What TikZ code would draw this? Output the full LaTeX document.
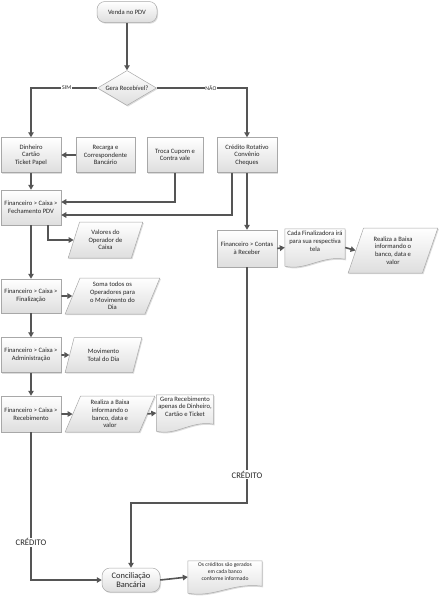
\documentclass[tikz,border=0pt]{standalone}
\usepackage{fontspec}
\setmainfont{Carlito}
\usetikzlibrary{shapes.geometric,arrows.meta,shadows,calc,backgrounds}
\definecolor{linec}{HTML}{555555}
\definecolor{bordc}{HTML}{A8A8A8}
\definecolor{txtc}{HTML}{262626}
\newcommand\docoutline[1]{%
  \begin{pgfonlayer}{background}
  \path[docfill] (#1.north west) -- (#1.north east) -- ([yshift=7pt]#1.south east)
    .. controls ($(#1.south west)!0.6!(#1.south east)+(0pt,11pt)$) and ($(#1.south west)!0.35!(#1.south east)+(0pt,-5pt)$) ..
    (#1.south west) -- cycle;
  \end{pgfonlayer}}
\begin{document}
\begin{tikzpicture}[x=1pt,y=-1pt,
  shade/.style={draw=bordc, line width=0.5pt, top color=white, bottom color=black!13,
    drop shadow={shadow xshift=1pt,shadow yshift=-1.2pt,fill=black!30,opacity=0.45}},
  txt/.style={text=txtc, align=center, font=\fontsize{6.6}{7.6}\selectfont, inner sep=1pt},
  proc/.style={shade, txt, rectangle, minimum width=60pt, minimum height=35pt},
  term/.style={shade, txt, rectangle, rounded corners=8pt},
  dec/.style={shade, txt, diamond, aspect=1.7, inner sep=0pt},
  para/.style={shade, txt, trapezium, trapezium left angle=70, trapezium right angle=110,
    trapezium stretches=true, minimum height=36pt},
  docn/.style={txt, rectangle, inner sep=1pt},
  docfill/.style={shade},
  arr/.style={draw=linec, line width=1.6pt, line join=miter, -{Triangle[length=5pt,width=5.5pt]}},
  lbl/.style={fill=white, inner sep=0.8pt, text=txtc, font=\fontsize{5.8}{6.5}\selectfont},
  biglbl/.style={fill=white, inner sep=1pt, text=txtc, font=\fontsize{8.6}{10}\selectfont}
]
\useasboundingbox (0,0) rectangle (439,600);

% top
\node[term, minimum width=60pt, minimum height=21pt] (start) at (127,12) {Venda no PDV};
\node[dec, minimum width=59pt, minimum height=35pt] (dec) at (127,88) {Gera Recebível?};

% row of boxes
\node[proc] (din) at (31,155) {Dinheiro\\Cartão\\Ticket Papel};
\node[proc, minimum width=59pt] (rec) at (105.5,155) {Recarga e\\Correspondente\\Bancário};
\node[proc, minimum width=56pt] (troca) at (175,155) {Troca Cupom e\\Contra vale};
\node[proc] (cred) at (247,155) {Crédito Rotativo\\Convênio\\Cheques};

% left column
\node[proc] (fech) at (31,207.5) {Financeiro > Caixa >\\Fechamento PDV};
\node[para, minimum width=75pt] (valores) at (105.5,240) {Valores do\\Operador de\\Caixa};
\node[proc, minimum height=34pt] (fin) at (31,296) {Financeiro > Caixa >\\Finalização};
\node[para, minimum width=95pt] (soma) at (112.5,296) {Soma todos os\\Operadores para\\o Movimento do\\Dia};
\node[proc] (adm) at (31,355) {Financeiro > Caixa >\\Administração};
\node[para, minimum width=77pt, minimum height=35pt] (mov) at (103.5,355) {Movimento\\Total do Dia};
\node[proc, minimum height=36pt] (receb) at (31,414) {Financeiro > Caixa >\\Recebimento};
\node[para, minimum width=90pt] (baixaA) at (110,414) {Realiza a Baixa\\informando o\\banco, data e\\valor};
\node[docn, minimum width=57pt, minimum height=36pt] (gera) at (185,413) {Gera Recebimento\\apenas de Dinheiro,\\Cartão e Ticket\\[5pt]};
\docoutline{gera}

% right column
\node[proc, minimum height=37pt] (contas) at (247,248.5) {Financeiro > Contas\\à Receber};
\node[docn, minimum width=60pt, minimum height=37pt] (cada) at (315,247.5) {Cada Finalizadora irá\\para sua respectiva\\tela\\[5pt]};
\docoutline{cada}
\node[para, minimum width=90pt, minimum height=45pt] (baixaB) at (393,250.5) {Realiza a Baixa\\informando o\\banco, data e\\valor};

% bottom
\node[term, minimum width=58pt, minimum height=24pt, font=\fontsize{8.4}{9.6}\selectfont] (conc) at (131,580) {Conciliação\\Bancária};
\node[docn, minimum width=74pt, minimum height=32pt, font=\fontsize{5.6}{6.8}\selectfont] (os) at (225,577) {Os créditos são gerados\\em cada banco\\conforme informado\\[4pt]};
\docoutline{os}

% connectors
\draw[arr] (start) -- (dec);
\draw[arr] (dec.west) -| node[lbl, pos=0.23] {SIM} (din.north);
\draw[arr] (dec.east) -| node[lbl, pos=0.3] {NÃO} (cred.north);
\draw[arr] (rec) -- (din);
\draw[arr] (din) -- (fech);
\draw[arr] (troca.south) |- ([yshift=5.5pt]fech.east);
\draw[arr] ([xshift=-15pt]cred.south) |- ([yshift=-7.5pt]fech.east);
\draw[arr] (cred) -- (contas);
\draw[arr] ([xshift=17pt]fech.south) |- (valores.west);
\draw[arr] (fech) -- (fin);
\draw[arr] (fin.east) -- (soma.west);
\draw[arr] (fin) -- (adm);
\draw[arr] (adm.east) -- (mov.west);
\draw[arr] (adm) -- (receb);
\draw[arr] (receb.east) -- (baixaA.west);
\draw[arr] (baixaA.east) -- (gera.west);
\draw[arr] (contas.east) -- (cada.west);
\draw[arr] (cada.east) -- (baixaB.west);
\draw[arr] (receb.south) |- node[biglbl, pos=0.372] {CRÉDITO} (conc.west);
\draw[arr] (contas.south) -- node[biglbl, pos=0.88] {CRÉDITO} ++(0,235.5) -| (conc.north);
\draw[arr] (conc.east) -- (os.west);
\end{tikzpicture}
\end{document}
